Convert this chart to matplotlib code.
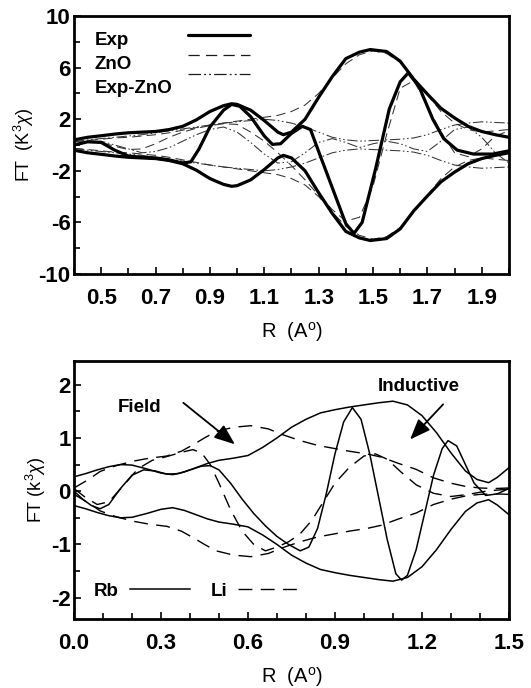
import matplotlib
matplotlib.use("Agg")
import matplotlib.pyplot as plt
import numpy as np
from matplotlib.lines import Line2D
from matplotlib.ticker import FixedLocator, MultipleLocator

plt.rcParams['font.family'] = ['Liberation Sans', 'DejaVu Sans']
plt.rcParams['axes.unicode_minus'] = False
plt.rcParams['mathtext.fontset'] = 'custom'
plt.rcParams['mathtext.rm'] = 'Liberation Sans'
plt.rcParams['mathtext.it'] = 'Liberation Sans:italic'

# ---------------- top panel data ----------------
exp_r = [0.40, 0.45, 0.50, 0.55, 0.60, 0.65, 0.70, 0.75, 0.80, 0.85, 0.90, 0.95, 0.98, 1.00,
         1.05, 1.10, 1.15, 1.17, 1.20, 1.25, 1.30, 1.35, 1.40, 1.45, 1.49, 1.55, 1.60, 1.65,
         1.70, 1.75, 1.80, 1.85, 1.90, 1.95, 2.00]
exp_mag = [0.40, 0.60, 0.72, 0.85, 0.95, 1.00, 1.05, 1.20, 1.45, 1.95, 2.60, 3.05, 3.20, 3.15,
           2.70, 1.90, 1.00, 0.80, 1.00, 2.00, 3.70, 5.30, 6.70, 7.20, 7.40, 7.25, 6.50, 5.10,
           3.95, 2.85, 2.10, 1.45, 1.05, 0.80, 0.60]

exp_im_r = [0.40, 0.45, 0.50, 0.55, 0.60, 0.65, 0.70, 0.75, 0.80, 0.83, 0.86, 0.90, 0.95, 0.98,
            1.01, 1.05, 1.10, 1.13, 1.16, 1.20, 1.24, 1.27, 1.30, 1.35, 1.40, 1.43, 1.46, 1.51,
            1.56, 1.60, 1.63, 1.67, 1.72, 1.76, 1.81, 1.87, 1.94, 2.00]
exp_im = [0.0, 0.25, 0.20, -0.40, -0.85, -0.95, -1.0, -1.15, -1.40, -1.30, -0.30, 1.40, 2.70, 3.15,
          3.00, 2.20, 0.70, 0.05, 0.10, 0.90, 1.45, 1.20, -0.50, -3.30, -6.10, -6.85, -6.00, -1.80,
          2.80, 4.90, 5.60, 4.50, 2.00, 0.50, -0.40, -0.70, -0.70, -0.45]

r_grid = [0.40, 0.45, 0.50, 0.55, 0.60, 0.65, 0.70, 0.75, 0.80, 0.85, 0.90, 0.95, 1.00, 1.05,
          1.10, 1.15, 1.20, 1.25, 1.30, 1.35, 1.40, 1.45, 1.50, 1.55, 1.60, 1.65, 1.70, 1.75,
          1.80, 1.85, 1.90, 1.95, 2.00]
zno_mag = [0.25, 0.35, 0.45, 0.55, 0.60, 0.70, 0.80, 0.95, 1.15, 1.35, 1.55, 1.70, 1.85, 2.00,
           2.15, 2.30, 2.60, 3.10, 4.00, 5.20, 6.30, 7.00, 7.30, 7.10, 6.40, 5.20, 3.90, 2.60,
           1.70, 1.20, 1.00, 1.10, 1.20]
zno_im = [0.10, 0.30, 0.20, -0.10, -0.35, -0.30, 0.10, 0.60, 1.00, 1.30, 1.50, 1.65, 1.60, 1.00,
          0.30, -0.60, -1.60, -2.70, -3.90, -5.00, -5.90, -5.60, -3.20, 0.80, 4.40, 5.00, 3.00, 1.00,
          -0.60, -0.90, -0.30, 0.70, 1.10]
diff_mag = [0.25, 0.40, 0.50, 0.60, 0.70, 0.80, 0.95, 1.10, 1.25, 1.40, 1.55, 1.70, 1.80, 1.90,
            2.00, 1.90, 1.70, 1.40, 1.00, 0.60, 0.40, 0.30, 0.35, 0.40, 0.45, 0.55, 0.80, 1.20,
            1.55, 1.70, 1.80, 1.75, 1.70]
diff_im = [0.0, 0.20, 0.30, 0.0, -0.30, -0.60, -0.50, -0.20, 0.30, 0.80, 1.20, 1.40, 1.00, 0.20,
           -0.70, -1.40, -1.30, -0.60, 0.20, 0.50, 0.20, -0.20, 0.10, 0.30, 0.10, -0.30, -0.50, 0.30,
           1.20, 1.40, 0.60, -0.60, -1.40]

top_labels = ['Exp', 'ZnO', 'Exp-ZnO']
top_xticks = [0.5, 0.7, 0.9, 1.1, 1.3, 1.5, 1.7, 1.9]
top_yticks = [-10, -6, -2, 2, 6, 10]

# ---------------- bottom panel data ----------------
rb_r = [0.00, 0.04, 0.08, 0.12, 0.16, 0.20, 0.25, 0.30, 0.34, 0.38, 0.42, 0.46, 0.50, 0.55,
        0.60, 0.65, 0.70, 0.75, 0.80, 0.85, 0.90, 0.95, 1.00, 1.05, 1.10, 1.15, 1.20, 1.25,
        1.30, 1.35, 1.39, 1.43, 1.46, 1.50]
rb_mag = [0.27, 0.33, 0.40, 0.46, 0.50, 0.49, 0.42, 0.34, 0.31, 0.36, 0.44, 0.52, 0.58, 0.62,
          0.67, 0.82, 1.00, 1.20, 1.35, 1.47, 1.53, 1.58, 1.62, 1.66, 1.69, 1.62, 1.42, 1.10,
          0.72, 0.38, 0.22, 0.16, 0.26, 0.44]
rb_im_r = [0.00, 0.03, 0.06, 0.09, 0.12, 0.16, 0.20, 0.24, 0.28, 0.32, 0.36, 0.40, 0.44, 0.47,
           0.50, 0.54, 0.58, 0.62, 0.66, 0.70, 0.74, 0.78, 0.81, 0.84, 0.87, 0.90, 0.93, 0.96,
           0.99, 1.02, 1.05, 1.08, 1.11, 1.13, 1.15, 1.18, 1.21, 1.24, 1.27, 1.29, 1.32, 1.35,
           1.38, 1.42, 1.46, 1.50]
rb_im = [0.0, -0.15, -0.27, -0.33, -0.25, 0.05, 0.30, 0.40, 0.38, 0.32, 0.33, 0.40, 0.47, 0.48,
         0.40, 0.15, -0.15, -0.42, -0.65, -0.85, -1.00, -1.12, -1.05, -0.70, -0.05, 0.70, 1.30, 1.57,
         1.35, 0.70, -0.10, -0.90, -1.55, -1.67, -1.58, -1.10, -0.40, 0.30, 0.80, 0.95, 0.85, 0.50,
         0.15, -0.08, -0.05, 0.05]
li_r = [0.00, 0.05, 0.09, 0.14, 0.20, 0.26, 0.32, 0.37, 0.41, 0.45, 0.49, 0.55, 0.61, 0.67,
        0.72, 0.78, 0.84, 0.89, 0.95, 1.01, 1.06, 1.12, 1.18, 1.24, 1.30, 1.35, 1.40, 1.45, 1.50]
li_mag = [0.06, 0.22, 0.37, 0.47, 0.56, 0.62, 0.66, 0.75, 0.87, 1.00, 1.12, 1.20, 1.23, 1.17,
          1.06, 0.95, 0.86, 0.81, 0.75, 0.70, 0.64, 0.52, 0.41, 0.25, 0.15, 0.09, 0.06, 0.05, 0.06]
li_im_r = [0.00, 0.04, 0.08, 0.12, 0.17, 0.22, 0.27, 0.32, 0.37, 0.41, 0.44, 0.47, 0.50, 0.54,
           0.58, 0.62, 0.66, 0.70, 0.74, 0.78, 0.82, 0.86, 0.90, 0.95, 1.00, 1.04, 1.08, 1.13,
           1.18, 1.24, 1.30, 1.36, 1.42, 1.50]
li_im = [0.05, -0.12, -0.25, -0.20, 0.10, 0.42, 0.58, 0.65, 0.73, 0.78, 0.72, 0.50, 0.15, -0.35,
         -0.75, -1.00, -1.12, -1.05, -0.95, -0.80, -0.55, -0.20, 0.15, 0.45, 0.66, 0.70, 0.60, 0.35,
         0.12, -0.04, -0.10, -0.06, 0.0, 0.04]

bottom_labels = ['Rb', 'Li']
bot_xticks = [0.0, 0.3, 0.6, 0.9, 1.2, 1.5]
bot_yticks = [-2, -1, 0, 1, 2]

# ---------------- figure ----------------
fig = plt.figure(figsize=(5.31, 6.88), dpi=100)
ax1 = fig.add_axes([0.1394, 0.6017, 0.819, 0.375])
ax2 = fig.add_axes([0.1394, 0.1003, 0.819, 0.3754])

thick = dict(color='black', lw=2.3, solid_capstyle='round')
zno_ls = (0, (9, 5))
diff_ls = (0, (10, 2.5, 1.5, 2.5, 1.5, 2.5))
thin_zno = dict(color='0.2', lw=0.75, linestyle=zno_ls)
thin_diff = dict(color='0.2', lw=0.75, linestyle=diff_ls)

# thin curves first
ax1.plot(r_grid, zno_mag, **thin_zno)
ax1.plot(r_grid, -np.array(zno_mag), **thin_zno)
ax1.plot(r_grid, zno_im, **thin_zno)
ax1.plot(r_grid, diff_mag, **thin_diff)
ax1.plot(r_grid, -np.array(diff_mag), **thin_diff)
ax1.plot(r_grid, diff_im, **thin_diff)
# thick experiment
ax1.plot(exp_r, exp_mag, **thick)
ax1.plot(exp_r, -np.array(exp_mag), **thick)
ax1.plot(exp_im_r, exp_im, **thick)

ax1.set_xlim(0.4, 2.0)
ax1.set_ylim(-10, 10)
ax1.xaxis.set_major_locator(FixedLocator(top_xticks))
ax1.xaxis.set_minor_locator(MultipleLocator(0.1))
ax1.yaxis.set_major_locator(FixedLocator(top_yticks))
ax1.yaxis.set_minor_locator(MultipleLocator(2))
ax1.set_xticklabels([f'{v:.1f}' for v in top_xticks])
ax1.set_yticklabels([f'{v:d}' for v in top_yticks])
ax1.set_xlabel(r'R  (A$^{\rm o}$)', fontsize=14.5, labelpad=8)
ax1.set_ylabel(r'FT  (K$^3\chi$)', fontsize=13, labelpad=2)

# legend for top (labels as text, samples via legend)
leg_y = [0.907, 0.814, 0.721]
for lab, yy in zip(top_labels, leg_y):
    ax1.text(0.048, yy, lab, transform=ax1.transAxes, ha='left', va='center',
             fontsize=13.5, fontweight='bold')
handles_top = [Line2D([], [], **thick),
               Line2D([], [], color='0.1', lw=0.9, linestyle=zno_ls),
               Line2D([], [], color='0.1', lw=0.9, linestyle=diff_ls)]
ax1.legend(handles_top, ['', '', ''], loc='upper left', bbox_to_anchor=(0.262, 0.952),
           frameon=False, handlelength=3.3, handletextpad=0, borderpad=0, borderaxespad=0,
           labelspacing=0.13, fontsize=13.5)

# bottom panel
rb_style = dict(color='black', lw=1.1)
li_style = dict(color='black', lw=1.0, linestyle=(0, (10, 6)))
ax2.plot(li_r, li_mag, **li_style)
ax2.plot(li_r, -np.array(li_mag), **li_style)
ax2.plot(li_im_r, li_im, **li_style)
ax2.plot(rb_r, rb_mag, **rb_style)
ax2.plot(rb_r, -np.array(rb_mag), **rb_style)
ax2.plot(rb_im_r, rb_im, **rb_style)

ax2.set_xlim(0, 1.5)
ax2.set_ylim(-2.4, 2.45)
ax2.xaxis.set_major_locator(FixedLocator(bot_xticks))
ax2.xaxis.set_minor_locator(MultipleLocator(0.1))
ax2.yaxis.set_major_locator(FixedLocator(bot_yticks))
ax2.yaxis.set_minor_locator(MultipleLocator(0.5))
ax2.set_xticklabels([f'{v:.1f}' for v in bot_xticks])
ax2.set_yticklabels([f'{v:d}' for v in bot_yticks])
ax2.set_xlabel(r'R  (A$^{\rm o}$)', fontsize=14.5, labelpad=8)
ax2.set_ylabel(r'FT (k$^3\chi$)', fontsize=13, labelpad=2)

handles_bot = [Line2D([], [], **rb_style), Line2D([], [], **li_style)]
ax2.legend(handles_bot, bottom_labels, ncol=2, markerfirst=False, loc='lower left',
           bbox_to_anchor=(0.045, 0.075), frameon=False, handlelength=3.2, handletextpad=0.6,
           columnspacing=1.1, borderpad=0, borderaxespad=0,
           prop={'size': 13.5, 'weight': 'bold'})

ax2.text(0.15, 1.57, 'Field', ha='left', va='center', fontsize=13.5, fontweight='bold')
ax2.text(1.19, 1.97, 'Inductive', ha='center', va='center', fontsize=13.5, fontweight='bold')
arrow = dict(arrowstyle='-|>,head_length=0.9,head_width=0.35', color='black', lw=1.3,
             mutation_scale=14, shrinkA=0, shrinkB=0)
ax2.annotate('', xy=(0.555, 0.88), xytext=(0.377, 1.66), arrowprops=arrow)
ax2.annotate('', xy=(1.159, 0.97), xytext=(1.273, 1.63), arrowprops=arrow)

for ax in (ax1, ax2):
    for s in ax.spines.values():
        s.set_linewidth(2.0)
    ax.tick_params(which='both', direction='in', top=False, right=False, width=1.2)
    ax.tick_params(which='major', length=5, labelsize=16)
    ax.tick_params(which='minor', length=4)
    ax.tick_params(axis='x', which='major', pad=10)
    ax.tick_params(axis='y', which='major', pad=2.5)
    for t in ax.get_xticklabels() + ax.get_yticklabels():
        t.set_fontweight('bold')

fig.savefig('out.png', dpi=100)
